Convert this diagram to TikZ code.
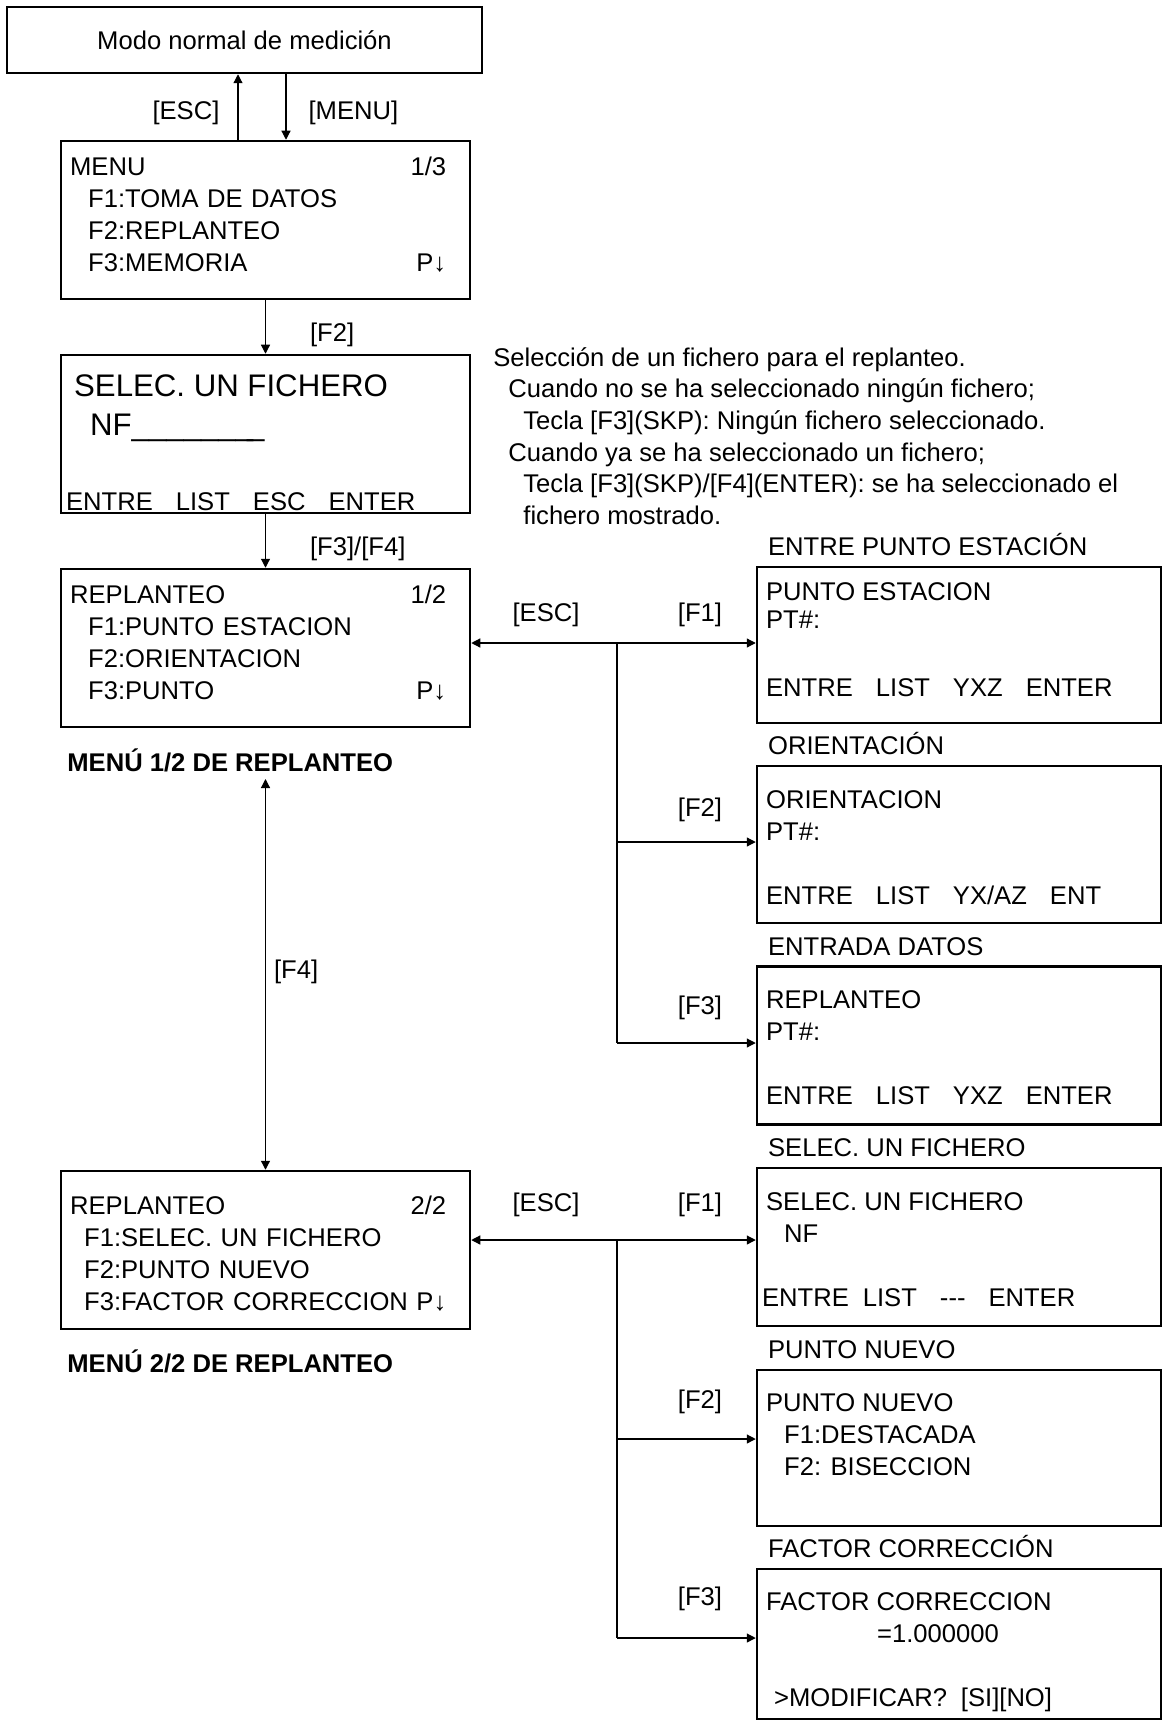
\documentclass[tikz,border=0pt]{standalone}
\usepackage{fontspec}
\setmainfont{Liberation Sans}
\usepackage{tikz}
\usetikzlibrary{
  arrows.meta,
  calc,
  positioning
}
\newcommand{\scrfont}{\fontsize{12.8}{16}\selectfont}
\newcommand{\tightscr}{\fontsize{12.8}{14}\selectfont}
\newcommand{\bigscr}{\fontsize{15.6}{19.5}\selectfont}
\newcommand{\notefont}{\fontsize{12.8}{15.8}\selectfont}
\newcommand{\ind}{\hspace*{9pt}}
\newcommand{\gap}{\hspace{11.5pt}}
\tikzset{
  % pantallas
  topbox/.style  = {draw, line width=1.25pt, minimum width=237.5pt, minimum height=33pt, font=\scrfont},
  scrbox/.style  = {draw, line width=1.25pt, minimum width=204.5pt, minimum height=79pt, inner sep=0pt},
  subbox/.style  = {draw, line width=1.25pt, minimum width=202pt, inner sep=0pt},
  % textos de pantalla
  scrtxt/.style  = {anchor=north west, inner sep=0pt, align=left, font=\scrfont},
  menutxt/.style = {scrtxt, text width=188pt},
  subttl/.style  = {anchor=base west, inner sep=0pt, font=\scrfont},
  % flechas
  keyarrow/.style = {-{Triangle[length=4.5pt,width=4.5pt]}, line width=0.6pt},
  keyboth/.style  = {{Triangle[length=4.5pt,width=4.5pt]}-{Triangle[length=4.5pt,width=4.5pt]}, line width=0.6pt},
  keyline/.style  = {line width=0.6pt},
  % etiquetas
  keylab/.style  = {inner sep=0pt, font=\scrfont},
  menucap/.style = {anchor=west, inner sep=0pt, font=\scrfont\bfseries},
}

\begin{document}
\begin{tikzpicture}[x=0.5pt, y=-0.5pt]
  \useasboundingbox (0,0) rectangle (1163,1722);
  % columna izquierda
  \node[topbox] (modo) at (244.5,40) {Modo normal de medición};
  \node[scrbox] (menu) at (265.5,220) {};
  \node[scrbox] (sel)  at (265.5,434) {};
  \node[scrbox] (rep1) at (265.5,648) {};
  \node[scrbox] (rep2) at (265.5,1250) {};
  \node[menutxt] (menut) at ($(menu.north west)+(10,17)$)
    {MENU\hfill 1/3\\ \ind F1:TOMA DE DATOS\\ \ind F2:REPLANTEO\\ \ind F3:MEMORIA\hfill P↓};
  \node[scrtxt, font=\bigscr] (selt) at ($(sel.north west)+(14,21)$)
    {SELEC. UN FICHERO\\ \hspace*{8pt}NF\_\_\_\_\_\_\_\kern-3pt\_};
  \node[scrtxt] (selk) at ($(sel.north west)+(6,138)$)
    {ENTRE\gap LIST\gap ESC\gap ENTER};
  \node[menutxt] (rep1t) at ($(rep1.north west)+(10,17)$)
    {REPLANTEO\hfill 1/2\\ \ind F1:PUNTO ESTACION\\ \ind F2:ORIENTACION\\ \ind F3:PUNTO\hfill P↓};
  \node[menutxt] (rep2t) at ($(rep2.north west)+(10,26)$)
    {REPLANTEO\hfill 2/2\\ \hspace*{7pt}F1:SELEC. UN FICHERO\\ \hspace*{7pt}F2:PUNTO NUEVO\\
     \mbox{\hspace*{7pt}F3:FACTOR CORRECCION P↓}};
  \node[menucap] (cap1) at (67,760) {MENÚ 1/2 DE REPLANTEO};
  \node[menucap] (cap2) at (67,1361) {MENÚ 2/2 DE REPLANTEO};

  % flechas izquierda
  \coordinate (xesc) at (238,0);
  \coordinate (xmnu) at (286,0);
  \draw[keyarrow] (menu.north -| xesc) -- (modo.south -| xesc)
    node[keylab, midway, left=9pt, yshift=-3pt] (lesc) {[ESC]};
  \draw[keyarrow] (modo.south -| xmnu) -- (menu.north -| xmnu)
    node[keylab, midway, right=11pt, yshift=-3pt] (lmnu) {[MENU]};
  \draw[keyarrow] (menu.south) -- (sel.north)
    node[keylab, midway, right=22pt, yshift=-4pt] (lf2) {[F2]};
  \draw[keyarrow] (sel.south) -- (rep1.north)
    node[keylab, midway, right=22pt, yshift=-4pt] (lf34) {[F3]/[F4]};
  \coordinate (f4top) at ($(cap1.south -| rep2.north)+(0,7)$);
  \draw[keyboth] (f4top) -- (rep2.north)
    node[keylab, midway, right=4pt, yshift=1.5pt] (lf4) {[F4]};

  % nota
  \node[scrtxt, font=\notefont] (nota) at (493,347)
    {Selección de un fichero para el replanteo.\\
     \hspace*{7.5pt}Cuando no se ha seleccionado ningún fichero;\\
     \hspace*{15pt}Tecla [F3](SKP): Ningún fichero seleccionado.\\
     \hspace*{7.5pt}Cuando ya se ha seleccionado un fichero;\\
     \hspace*{15pt}Tecla [F3](SKP)/[F4](ENTER): se ha seleccionado el\\
     \hspace*{15pt}fichero mostrado.};

  % columna derecha
  \foreach \nm/\yc/\h/\ttl in {est/645/78/ENTRE PUNTO ESTACIÓN,%
      ori/844.5/78.5/ORIENTACIÓN,%
      dat/1045.5/79/ENTRADA DATOS,%
      fic/1247/79/SELEC. UN FICHERO,%
      nue/1448/78/PUNTO NUEVO,%
      fac/1644/75/FACTOR CORRECCIÓN}{
    \node[subbox, minimum height=\h pt] (\nm) at (959,\yc) {};
    \node[subttl] (\nm-t) at ($(\nm.north west)+(12,-10)$) {\ttl};
  }
  \node[scrtxt, font=\tightscr] (est-c) at ($(est.north west)+(10,16)$)
    {PUNTO ESTACION\\PT\#:\\[20pt]ENTRE\gap LIST\gap YXZ\gap ENTER};
  \node[scrtxt] (ori-c) at ($(ori.north west)+(10,25)$)
    {ORIENTACION\\PT\#:\\[\baselineskip]ENTRE\gap LIST\gap YX/AZ\gap ENT};
  \node[scrtxt] (dat-c) at ($(dat.north west)+(10,25)$)
    {REPLANTEO\\PT\#:\\[\baselineskip]ENTRE\gap LIST\gap YXZ\gap ENTER};
  \node[scrtxt] (fic-c) at ($(fic.north west)+(6,25)$)
    {\hspace*{2pt}SELEC. UN FICHERO\\ \hspace*{11pt}NF\\[\baselineskip]ENTRE\hspace{7pt}LIST\gap -{}-{}-\gap ENTER};
  \node[scrtxt] (nue-c) at ($(nue.north west)+(10,24)$)
    {PUNTO NUEVO\\ \ind F1:DESTACADA\\ \ind F2: BISECCION};
  \node[scrtxt] (fac-c) at ($(fac.north west)+(10,24)$)
    {FACTOR CORRECCION\\ \hspace*{55.5pt}=1.000000\\[\baselineskip]\hspace*{4pt}>MODIFICAR?\hspace{7pt}[SI][NO]};

  % flechas derecha
  \foreach \nm/\s in {est/1,ori/1.25,dat/1.25,fic/3.5,nue/4.5,fac/3}
    \coordinate (\nm-e) at ([yshift=\s pt]\nm.west);
  \coordinate (bus) at (617,0);
  \draw[keyboth] (rep1.east |- est-e) -- (est-e);
  \draw[keyline] (bus |- est-e) -- (bus |- dat-e);
  \draw[keyboth] (rep2.east |- fic-e) -- (fic-e);
  \draw[keyline] (bus |- fic-e) -- (bus |- fac-e);
  \foreach \nm in {ori,dat,nue,fac}
    \draw[keyarrow] (bus |- \nm-e) -- (\nm-e);
  \node[keylab] (kaesc) at (546,615) {[ESC]};
  \node[keylab] (kbesc) at (546,1205) {[ESC]};
  \foreach \k/\y in {1/615,2/810,3/1008}
    \node[keylab] (ka\k) at (700,\y) {[F\k]};
  \foreach \k/\y in {1/1205,2/1402,3/1599}
    \node[keylab] (kb\k) at (700,\y) {[F\k]};
\end{tikzpicture}
\end{document}
